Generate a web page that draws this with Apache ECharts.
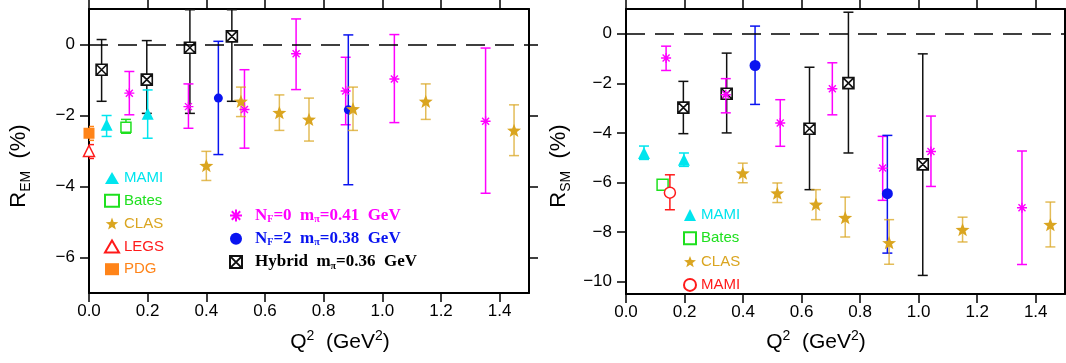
<!DOCTYPE html>
<html>
<head>
<meta charset="utf-8">
<script src="https://cdn.jsdelivr.net/npm/echarts@6/dist/echarts.min.js"></script>
<style>
  html, body { margin: 0; padding: 0; background: #fff; }
  #chart { width: 1066px; height: 363px; }
</style>
</head>
<body>
<div id="chart"></div>
<script>
// ---- data: R_EM (left panel) ----
const emMamiQ = [0.06, 0.20];
const emMami = [-2.26, -1.95];
const emMamiLo = [-2.59, -2.64];
const emMamiHi = [-2.00, -1.28];

const emBatesQ = [0.126];
const emBates = [-2.33];
const emBatesLo = [-2.50];
const emBatesHi = [-2.11];

const emClasQ = [0.40, 0.518, 0.649, 0.75, 0.90, 1.148, 1.449];
const emClas = [-3.41, -1.60, -1.92, -2.11, -1.81, -1.60, -2.42];
const emClasLo = [-3.83, -2.03, -2.42, -2.72, -2.42, -2.11, -3.13];
const emClasHi = [-3.01, -1.20, -1.42, -1.51, -1.20, -1.11, -1.70];

const emLegsQ = [0.0];
const emLegs = [-3.0];
const emLegsLo = [-3.21];
const emLegsHi = [-2.82];

const emPdgQ = [0.0];
const emPdg = [-2.5];
const emPdgLo = [-2.70];
const emPdgHi = [-2.31];

const emNf0Q = [0.1375, 0.339, 0.53, 0.706, 0.875, 1.041, 1.352];
const emNf0 = [-1.37, -1.75, -1.83, -0.26, -1.31, -0.97, -2.16];
const emNf0Lo = [-1.98, -2.36, -2.92, -1.27, -2.26, -2.20, -4.19];
const emNf0Hi = [-0.76, -1.11, -0.71, 0.72, -0.36, 0.28, -0.10];

const emNf2Q = [0.441, 0.884];
const emNf2 = [-1.51, -1.84];
const emNf2Lo = [-3.10, -3.95];
const emNf2Hi = [0.09, 0.27];

const emHybQ = [0.043, 0.197, 0.344, 0.487];
const emHyb = [-0.71, -0.99, -0.09, 0.23];
const emHybLo = [-1.60, -1.94, -1.94, -1.60];
const emHybHi = [0.14, 0.11, 0.98, 0.98];

// ---- data: R_SM (right panel) ----
const smMamiQ = [0.0615, 0.198];
const smMami = [-4.81, -5.08];
const smMamiLo = [-5.07, -5.35];
const smMamiHi = [-4.53, -4.81];

const smBatesQ = [0.125];
const smBates = [-6.09];
const smBatesLo = [-6.15];
const smBatesHi = [-6.03];

const smClasQ = [0.399, 0.517, 0.649, 0.749, 0.899, 1.15, 1.45];
const smClas = [-5.62, -6.43, -6.88, -7.42, -8.43, -7.90, -7.70];
const smClasLo = [-6.01, -6.81, -7.50, -8.20, -9.30, -8.40, -8.60];
const smClasHi = [-5.22, -6.02, -6.29, -6.59, -7.50, -7.40, -6.79];

const smMami2Q = [0.15];
const smMami2 = [-6.41];
const smMami2Lo = [-7.10];
const smMami2Hi = [-5.69];

const smNf0Q = [0.137, 0.341, 0.527, 0.705, 0.877, 1.042, 1.353];
const smNf0 = [-0.98, -2.46, -3.60, -2.22, -5.42, -4.75, -7.02];
const smNf0Lo = [-1.48, -3.19, -4.54, -3.27, -6.72, -6.16, -9.31];
const smNf0Hi = [-0.50, -1.81, -2.66, -1.17, -4.14, -3.32, -4.73];

const smNf2Q = [0.441, 0.893];
const smNf2 = [-1.28, -6.45];
const smNf2Lo = [-2.85, -8.85];
const smNf2Hi = [0.31, -4.10];

const smHybQ = [0.196, 0.344, 0.627, 0.76, 1.014];
const smHyb = [-2.98, -2.42, -3.83, -1.99, -5.27];
const smHybLo = [-4.03, -4.00, -6.29, -4.81, -9.75];
const smHybHi = [-1.92, -0.78, -1.35, 0.87, -0.81];

// ticks
const qTicks = [0, 0.2, 0.4, 0.6, 0.8, 1.0, 1.2, 1.4];
const emTicks = [-6, -4, -2, 0];
const smTicks = [-10, -8, -6, -4, -2, 0];

// colours
const CYAN = '#00e5ee', GREEN = '#1ee01e', GOLD = '#daa520', GOLD_BAR = 'rgba(218,165,32,0.75)';
const RED = '#ff1a1a', ORANGE = '#ff8419', MAGENTA = '#ff00ff', BLUE = '#0a14f0', DARK = '#111';
const SANS = 'Liberation Sans, Arial, sans-serif';
const SERIF = 'Liberation Serif, Times New Roman, serif';

// symbols
const starPath = (() => {
  let d = 'path://';
  for (let k = 0; k < 10; k++) {
    const r = k % 2 ? 4.2 : 10;
    const a = -Math.PI / 2 + k * Math.PI / 5;
    d += (k ? 'L' : 'M') + (r * Math.cos(a)).toFixed(2) + ',' + (r * Math.sin(a)).toFixed(2);
  }
  return d + 'Z';
})();
const asterPath = 'path://M0,-10L0,10M-10,0L10,0M-7,-7L7,7M-7,7L7,-7';
const boxXPath = 'path://M-10,-10L10,-10L10,10L-10,10ZM-10,-10L10,10M10,-10L-10,10';

const minus = v => String(v).replace('-', '\u2212');

function errorBars(g, q, lo, hi, color) {
  return {
    type: 'custom',
    xAxisIndex: g * 2, yAxisIndex: g * 2, z: 2,
    data: q.map((x, i) => [x, lo[i], hi[i]]),
    encode: {x: 0, y: [1, 2]},
    clip: true,
    silent: true,
    renderItem: (params, api) => {
      const top = api.coord([api.value(0), api.value(2)]);
      const bot = api.coord([api.value(0), api.value(1)]);
      const w = 5;
      const style = {stroke: color, lineWidth: 1.5};
      return {
        type: 'group',
        children: [
          {type: 'line', shape: {x1: top[0], y1: top[1], x2: bot[0], y2: bot[1]}, style},
          {type: 'line', shape: {x1: top[0] - w, y1: top[1], x2: top[0] + w, y2: top[1]}, style},
          {type: 'line', shape: {x1: bot[0] - w, y1: bot[1], x2: bot[0] + w, y2: bot[1]}, style}
        ]
      };
    }
  };
}

function points(g, name, q, v, symbol, size, fill, border, bw) {
  return {
    type: 'scatter', name,
    xAxisIndex: g * 2, yAxisIndex: g * 2, z: 3,
    data: q.map((x, i) => [x, v[i]]),
    symbol, symbolSize: size, symbolKeepAspect: true,
    itemStyle: {color: fill, borderColor: border || fill, borderWidth: bw || 0, opacity: 1},
    emphasis: {disabled: true}
  };
}

function xAxes(g) {
  const base = {
    type: 'value', gridIndex: g, min: 0, max: 1.5,
    axisLine: {show: true, onZero: false, lineStyle: {color: '#000', width: 2}},
    axisTick: {show: true, length: 9, customValues: qTicks, lineStyle: {color: '#000', width: 1.5}},
    splitLine: {show: false}
  };
  return [
    Object.assign({}, base, {
      position: 'bottom',
      axisLabel: {customValues: qTicks, formatter: v => v.toFixed(1), color: '#000',
        fontFamily: SANS, fontSize: 17, margin: 10}
    }),
    Object.assign({}, base, {position: 'top', axisLabel: {show: false}})
  ];
}

function yAxes(g, min, ticks) {
  const base = {
    type: 'value', gridIndex: g, min, max: 1,
    axisLine: {show: true, onZero: false, lineStyle: {color: '#000', width: 2}},
    axisTick: {show: true, length: 9, customValues: ticks, lineStyle: {color: '#000', width: 1.5}},
    splitLine: {show: false}
  };
  return [
    Object.assign({}, base, {
      position: 'left',
      axisLabel: {customValues: ticks, formatter: minus, color: '#000',
        fontFamily: SANS, fontSize: 17, margin: 14}
    }),
    Object.assign({}, base, {position: 'right', axisLabel: {show: false}})
  ];
}

const zeroLine = {
  silent: true, symbol: 'none', label: {show: false},
  lineStyle: {color: '#000', width: 1.6, type: [19, 10]},
  data: [{yAxis: 0}]
};

const labelNames = {'MAMI-A2': 'MAMI'};

// lattice legend rich text
const latticeLabels = {
  NF0: '{n|N}{s|F}{n|=0\u00a0\u00a0m}{s|\u03c0}{n|=0.41\u00a0\u00a0GeV}',
  NF2: '{n|N}{s|F}{n|=2\u00a0\u00a0m}{s|\u03c0}{n|=0.38\u00a0\u00a0GeV}',
  Hybrid: '{n|Hybrid\u00a0\u00a0m}{s|\u03c0}{n|=0.36\u00a0\u00a0GeV}'
};

const series = [
  // left grid
  errorBars(0, emHybQ, emHybLo, emHybHi, DARK),
  errorBars(0, emNf0Q, emNf0Lo, emNf0Hi, MAGENTA),
  errorBars(0, emNf2Q, emNf2Lo, emNf2Hi, BLUE),
  errorBars(0, emMamiQ, emMamiLo, emMamiHi, CYAN),
  errorBars(0, emBatesQ, emBatesLo, emBatesHi, GREEN),
  errorBars(0, emClasQ, emClasLo, emClasHi, GOLD_BAR),
  errorBars(0, emLegsQ, emLegsLo, emLegsHi, RED),
  errorBars(0, emPdgQ, emPdgLo, emPdgHi, ORANGE),
  Object.assign(points(0, 'Hybrid', emHybQ, emHyb, boxXPath, 11, '#fff', DARK, 1.6), {markLine: zeroLine}),
  points(0, 'NF0', emNf0Q, emNf0, asterPath, 10, MAGENTA, MAGENTA, 1.4),
  points(0, 'NF2', emNf2Q, emNf2, 'circle', 9, BLUE),
  points(0, 'MAMI', emMamiQ, emMami, 'triangle', 12, CYAN),
  points(0, 'Bates', emBatesQ, emBates, 'rect', 10, '#fff', GREEN, 1.5),
  points(0, 'CLAS', emClasQ, emClas, starPath, 14, GOLD),
  points(0, 'LEGS', emLegsQ, emLegs, 'triangle', 11, '#fff', RED, 1.5),
  points(0, 'PDG', emPdgQ, emPdg, 'rect', 11, ORANGE),
  // right grid
  errorBars(1, smHybQ, smHybLo, smHybHi, DARK),
  errorBars(1, smNf0Q, smNf0Lo, smNf0Hi, MAGENTA),
  errorBars(1, smNf2Q, smNf2Lo, smNf2Hi, BLUE),
  errorBars(1, smMamiQ, smMamiLo, smMamiHi, CYAN),
  errorBars(1, smBatesQ, smBatesLo, smBatesHi, GREEN),
  errorBars(1, smClasQ, smClasLo, smClasHi, GOLD_BAR),
  errorBars(1, smMami2Q, smMami2Lo, smMami2Hi, RED),
  Object.assign(points(1, 'Hybrid', smHybQ, smHyb, boxXPath, 11, '#fff', DARK, 1.6), {markLine: zeroLine}),
  points(1, 'NF0', smNf0Q, smNf0, asterPath, 10, MAGENTA, MAGENTA, 1.4),
  points(1, 'NF2', smNf2Q, smNf2, 'circle', 11, BLUE),
  points(1, 'MAMI', smMamiQ, smMami, 'triangle', 12, CYAN),
  points(1, 'Bates', smBatesQ, smBates, 'rect', 11, '#fff', GREEN, 1.5),
  points(1, 'CLAS', smClasQ, smClas, starPath, 14, GOLD),
  points(1, 'MAMI-A2', smMami2Q, smMami2, 'circle', 11, '#fff', RED, 1.5)
];

const legendBase = {
  orient: 'vertical', selectedMode: false, itemHeight: 12, padding: 0,
  textStyle: {fontFamily: SANS, fontSize: 15, lineHeight: 16},
  formatter: n => labelNames[n] || n
};

const chart = echarts.init(document.getElementById('chart'), null, {renderer: 'canvas'});
chart.setOption({
  animation: false,
  backgroundColor: '#fff',
  grid: [
    {left: 89, top: 9, width: 440, height: 284},
    {left: 626, top: 9, width: 439, height: 285}
  ],
  xAxis: xAxes(0).concat(xAxes(1)),
  yAxis: yAxes(0, -7, emTicks).concat(yAxes(1, -10.5, smTicks)),
  legend: [
    Object.assign({}, legendBase, {
      left: 104, top: 170, itemWidth: 14, itemGap: 6.8,
      data: [
        {name: 'MAMI', textStyle: {color: CYAN}},
        {name: 'Bates', textStyle: {color: GREEN}},
        {name: 'CLAS', textStyle: {color: GOLD}},
        {name: 'LEGS', textStyle: {color: RED}},
        {name: 'PDG', textStyle: {color: ORANGE}}
      ]
    }),
    Object.assign({}, legendBase, {
      left: 683, top: 207, itemWidth: 12, itemGap: 7.3,
      data: [
        {name: 'MAMI', textStyle: {color: CYAN}},
        {name: 'Bates', textStyle: {color: GREEN}},
        {name: 'CLAS', textStyle: {color: GOLD}},
        {name: 'MAMI-A2', textStyle: {color: RED}}
      ]
    }),
    Object.assign({}, legendBase, {
      left: 229, top: 207, itemWidth: 28, itemGap: 5.8,
      formatter: n => latticeLabels[n],
      textStyle: {
        rich: {
          n: {fontFamily: SERIF, fontWeight: 'bold', fontSize: 17, lineHeight: 18},
          s: {fontFamily: SERIF, fontWeight: 'bold', fontSize: 10, verticalAlign: 'bottom', lineHeight: 18, padding: [6, 0, 0, 0]}
        }
      },
      data: [
        {name: 'NF0', textStyle: {color: MAGENTA}},
        {name: 'NF2', textStyle: {color: BLUE}},
        {name: 'Hybrid', textStyle: {color: '#000'}}
      ]
    })
  ],
  graphic: [
    {type: 'text', x: 340, y: 342, style: {
      text: '{m|Q}{p|2}{m|  (GeV}{p|2}{m|)}', align: 'center', verticalAlign: 'middle',
      rich: {m: {fontFamily: SANS, fontSize: 21, lineHeight: 26}, p: {fontFamily: SANS, fontSize: 14, verticalAlign: 'top', lineHeight: 26}}
    }},
    {type: 'text', x: 816, y: 342, style: {
      text: '{m|Q}{p|2}{m|  (GeV}{p|2}{m|)}', align: 'center', verticalAlign: 'middle',
      rich: {m: {fontFamily: SANS, fontSize: 21, lineHeight: 26}, p: {fontFamily: SANS, fontSize: 14, verticalAlign: 'top', lineHeight: 26}}
    }},
    {type: 'text', x: 19, y: 166, rotation: Math.PI / 2, style: {
      text: '{m|R}{b|EM}{m|  (%)}', align: 'center', verticalAlign: 'middle',
      rich: {m: {fontFamily: SANS, fontSize: 22, lineHeight: 28}, b: {fontFamily: SANS, fontSize: 14, verticalAlign: 'bottom', lineHeight: 28}}
    }},
    {type: 'text', x: 559, y: 166, rotation: Math.PI / 2, style: {
      text: '{m|R}{b|SM}{m|  (%)}', align: 'center', verticalAlign: 'middle',
      rich: {m: {fontFamily: SANS, fontSize: 22, lineHeight: 28}, b: {fontFamily: SANS, fontSize: 14, verticalAlign: 'bottom', lineHeight: 28}}
    }}
  ],
  series
});
</script>
</body>
</html>
